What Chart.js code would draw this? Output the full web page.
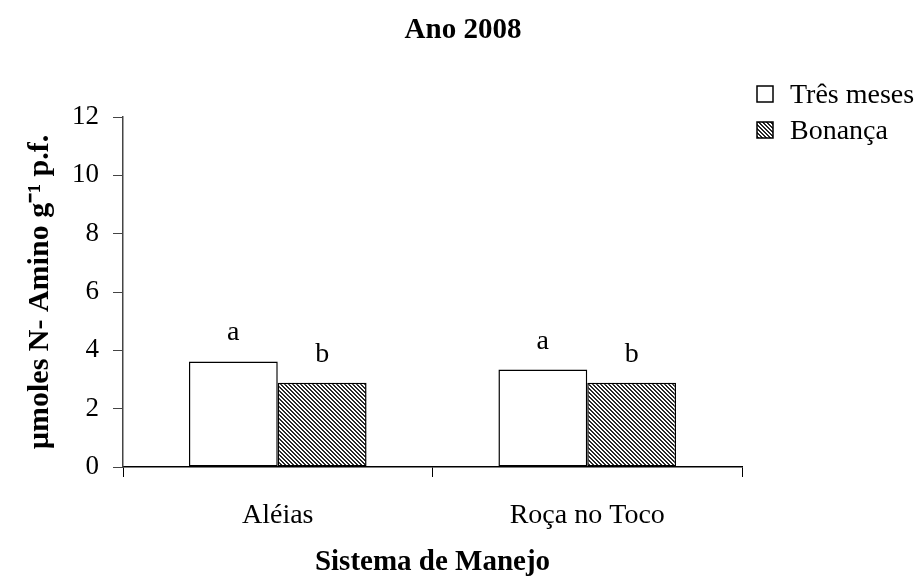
<!DOCTYPE html>
<html>
<head>
<meta charset="utf-8">
<script src="https://cdn.jsdelivr.net/npm/chart.js@4"></script>
<style>
html,body{margin:0;padding:0;background:#fff;}
canvas{display:block;}
</style>
</head>
<body>
<canvas id="c" width="918" height="587"></canvas>
<script>
const chartTitle = 'Ano 2008';
const categories = ['Aléias', 'Roça no Toco'];
const seriesNames = ['Três meses', 'Bonança'];
const tresMeses = [3.62, 3.34];
const bonanca = [2.89, 2.89];
const lettersTres = ['a', 'a'];
const lettersBonanca = ['b', 'b'];
const yTitle = 'µmoles N- Amino g⁻¹ p.f.';
const xTitle = 'Sistema de Manejo';
const yMin = 0, yMax = 12, yStep = 2;

const SERIF = '"Liberation Serif", "Times New Roman", serif';

function makeHatch() {
  const s = 8;
  const pc = document.createElement('canvas');
  pc.width = s; pc.height = s;
  const ctx = pc.getContext('2d');
  const img = ctx.createImageData(s, s);
  for (let y = 0; y < s; y++) {
    for (let x = 0; x < s; x++) {
      const k = (((x - y) % 4) + 4) % 4;
      const dark = k < 2;
      const i = (y * s + x) * 4;
      const v = dark ? 40 : 255;
      img.data[i] = v; img.data[i+1] = v; img.data[i+2] = v; img.data[i+3] = 255;
    }
  }
  ctx.putImageData(img, 0, 0);
  return document.getElementById('c').getContext('2d').createPattern(pc, 'repeat');
}
const hatch = makeHatch();

const annotationPlugin = {
  id: 'annot',
  afterDatasetsDraw(chart) {
    const ctx = chart.ctx;
    ctx.save();
    ctx.fillStyle = '#000';
    ctx.textAlign = 'center';
    ctx.textBaseline = 'alphabetic';
    ctx.font = '28px ' + SERIF;
    const letterSets = [lettersTres, lettersBonanca];
    chart.data.datasets.forEach((ds, di) => {
      const meta = chart.getDatasetMeta(di);
      meta.data.forEach((bar, i) => {
        ctx.fillText(letterSets[di][i], bar.x, bar.y - 21);
      });
    });
    // title
    ctx.font = 'bold 29px ' + SERIF;
    ctx.fillText(chartTitle, 463, 38);
    // legend
    ctx.font = '28px ' + SERIF;
    ctx.textAlign = 'left';
    const rows = [{y: 86, fill: '#fff'}, {y: 122, fill: hatch}];
    chart.data.datasets.forEach((ds, di) => {
      const r = rows[di];
      ctx.fillStyle = r.fill;
      ctx.fillRect(757, r.y, 16, 16);
      ctx.strokeStyle = '#000';
      ctx.lineWidth = 1.5;
      ctx.strokeRect(757, r.y, 16, 16);
      ctx.fillStyle = '#000';
      ctx.fillText(ds.label, 790, r.y + 17);
    });
    ctx.restore();
  }
};

new Chart(document.getElementById('c'), {
  type: 'bar',
  data: {
    labels: categories,
    datasets: [
      { label: seriesNames[0], data: tresMeses, backgroundColor: '#fff', borderColor: '#000', borderWidth: 1.5, borderSkipped: false },
      { label: seriesNames[1], data: bonanca, backgroundColor: hatch, borderColor: '#000', borderWidth: 1.5, borderSkipped: false }
    ]
  },
  options: {
    responsive: false,
    animation: false,
    layout: { padding: { top: 117, right: 176, bottom: 0, left: 0 } },
    datasets: { bar: { categoryPercentage: 0.574, barPercentage: 1.0 } },
    plugins: {
      legend: { display: false },
      title: { display: false },
      tooltip: { enabled: false }
    },
    scales: {
      x: {
        afterFit(scale) { scale.height = 120; },
        grid: { display: true, drawOnChartArea: false, drawTicks: true, tickLength: 10, tickColor: '#000', offset: true },
        border: { display: true, color: '#000', width: 1.5 },
        ticks: { color: '#000', font: { family: SERIF, size: 28 }, padding: 22 },
        title: { display: true, text: xTitle, color: '#000', font: { family: SERIF, size: 29, weight: 'bold' }, padding: { top: 0, bottom: 7 } }
      },
      y: {
        min: yMin, max: yMax,
        afterFit(scale) { scale.width = 123; },
        grid: { display: true, drawOnChartArea: false, drawTicks: true, tickLength: 10, tickColor: '#444' },
        border: { display: true, color: '#444', width: 1.5 },
        ticks: { stepSize: yStep, color: '#000', font: { family: SERIF, size: 27 }, padding: 14 },
        title: { display: true, text: yTitle, color: '#000', font: { family: SERIF, size: 30, weight: 'bold' }, padding: { top: 22, bottom: 0 } }
      }
    }
  },
  plugins: [annotationPlugin]
});
</script>
</body>
</html>
